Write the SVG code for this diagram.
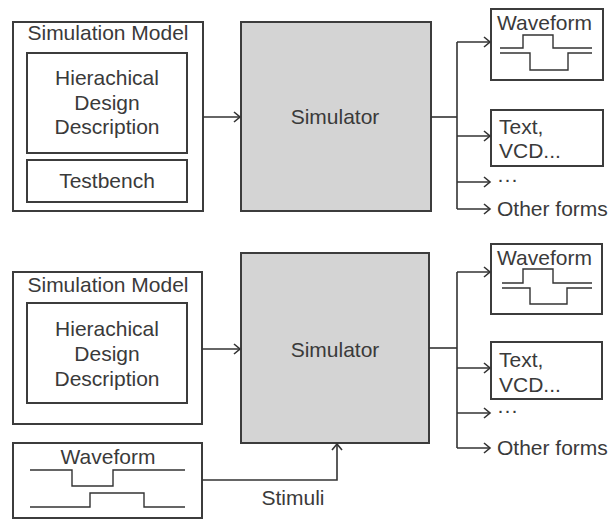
<svg xmlns="http://www.w3.org/2000/svg" width="609" height="520" viewBox="0 0 609 520">
  <style>
    .box { fill: #ffffff; stroke: #3c3c3c; stroke-width: 2; }
    .sim { fill: #d4d4d4; stroke: #3c3c3c; stroke-width: 2; }
    .wire { fill: none; stroke: #333333; stroke-width: 1.6; }
    .wave { fill: none; stroke: #333333; stroke-width: 1.4; }
    text { font-family: "Liberation Sans", Arial, sans-serif; font-size: 21px; fill: #3a3a3a; }
    .c { text-anchor: middle; }
  </style>
  <defs>
    <marker id="arrow" markerUnits="userSpaceOnUse" markerWidth="10" markerHeight="12" refX="7" refY="6" orient="auto">
      <path d="M1,1 L7,6 L1,11" fill="none" stroke="#333333" stroke-width="1.6"/>
    </marker>
  </defs>

  <!-- Upper flow: model with testbench -->
  <g id="model-top">
    <rect class="box" x="13" y="22" width="190" height="189"/>
    <text class="c" x="108" y="40">Simulation Model</text>
  </g>
  <g id="design-top">
    <rect class="box" x="27" y="53" width="160" height="100"/>
    <text class="c" x="107" y="85">Hierachical</text>
    <text class="c" x="107" y="110">Design</text>
    <text class="c" x="107" y="134">Description</text>
  </g>
  <g id="testbench">
    <rect class="box" x="27" y="160" width="160" height="42"/>
    <text class="c" x="107" y="188">Testbench</text>
  </g>
  <g id="simulator-top">
    <rect class="sim" x="241" y="22" width="190" height="189"/>
    <text class="c" x="335" y="124">Simulator</text>
  </g>
  <g id="waveform-out-top">
    <rect class="box" x="491" y="9" width="112" height="71"/>
    <text x="497" y="30">Waveform</text>
    <path class="wave" d="M500,48 H523 V35 H553 V48 H592"/>
    <path class="wave" d="M500,53 H530 V70 H568 V53 H592"/>
  </g>
  <g id="text-out-top">
    <rect class="box" x="491" y="110" width="112" height="56"/>
    <text x="499" y="134">Text,</text>
    <text x="499" y="158">VCD...</text>
  </g>
  <g id="more-top">
    <text x="497" y="186">···</text>
  </g>
  <g id="other-top">
    <text x="497" y="216">Other forms</text>
  </g>

  <!-- Lower flow: model with stimulus waveform -->
  <g id="model-bottom">
    <rect class="box" x="13" y="272" width="189" height="152"/>
    <text class="c" x="108" y="292">Simulation Model</text>
  </g>
  <g id="design-bottom">
    <rect class="box" x="27" y="303" width="160" height="100"/>
    <text class="c" x="107" y="336">Hierachical</text>
    <text class="c" x="107" y="361">Design</text>
    <text class="c" x="107" y="386">Description</text>
  </g>
  <g id="stimulus-waveform">
    <rect class="box" x="13" y="443" width="189" height="75"/>
    <text class="c" x="108" y="464">Waveform</text>
    <path class="wave" d="M30,470 H72 V486 H113 V470 H185"/>
    <path class="wave" d="M30,507 H90 V493 H144 V507 H185"/>
  </g>
  <g id="simulator-bottom">
    <rect class="sim" x="241" y="253" width="188" height="190"/>
    <text class="c" x="335" y="357">Simulator</text>
  </g>
  <g id="waveform-out-bottom">
    <rect class="box" x="491" y="244" width="111" height="70"/>
    <text x="497" y="265">Waveform</text>
    <path class="wave" d="M502,283 H523 V269 H553 V283 H592"/>
    <path class="wave" d="M502,288 H530 V304 H567 V288 H592"/>
  </g>
  <g id="text-out-bottom">
    <rect class="box" x="491" y="342" width="111" height="57"/>
    <text x="499" y="367">Text,</text>
    <text x="499" y="392">VCD...</text>
  </g>
  <g id="more-bottom">
    <text x="497" y="417">···</text>
  </g>
  <g id="other-bottom">
    <text x="497" y="455">Other forms</text>
  </g>
  <g id="stimuli-label">
    <text class="c" x="293" y="505">Stimuli</text>
  </g>

  <!-- Connectors -->
  <g id="connectors">
    <path class="wire" d="M203,117 H240" marker-end="url(#arrow)"/>
    <path class="wire" d="M431,117 H457"/>
    <path class="wire" d="M457,42 V209"/>
    <path class="wire" d="M457,42 H490" marker-end="url(#arrow)"/>
    <path class="wire" d="M457,136 H490" marker-end="url(#arrow)"/>
    <path class="wire" d="M457,182 H490" marker-end="url(#arrow)"/>
    <path class="wire" d="M457,209 H490" marker-end="url(#arrow)"/>

    <path class="wire" d="M202,349 H240" marker-end="url(#arrow)"/>
    <path class="wire" d="M429,348 H457"/>
    <path class="wire" d="M457,272 V448"/>
    <path class="wire" d="M457,272 H490" marker-end="url(#arrow)"/>
    <path class="wire" d="M457,368 H490" marker-end="url(#arrow)"/>
    <path class="wire" d="M457,413 H490" marker-end="url(#arrow)"/>
    <path class="wire" d="M457,448 H490" marker-end="url(#arrow)"/>

    <path class="wire" d="M202,480 H337 V444" marker-end="url(#arrow)"/>
  </g>
</svg>
